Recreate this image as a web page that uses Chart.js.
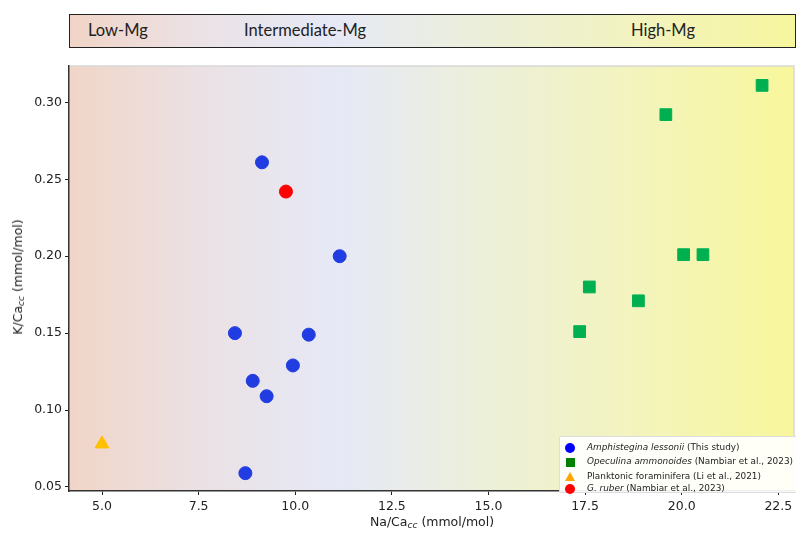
<!DOCTYPE html>
<html>
<head>
<meta charset="utf-8">
<script src="https://cdn.jsdelivr.net/npm/chart.js@4"></script>
<style>
  html, body { margin: 0; padding: 0; background: #fff; }
  #wrap { position: relative; width: 796px; height: 533px; overflow: hidden; }
  #grafico { position: absolute; left: 0; top: 0; }
  .faixa {
    position: absolute; left: 69px; top: 14px; width: 725px; height: 32px;
    border: 1px solid #222;
    background: linear-gradient(to right, #f1d4c6 0%, #ebe2e6 18%, #e6e9f6 36%, #ebeedc 55%, #f2f3bf 78%, #f6f69e 100%);
  }
  .faixa span {
    position: absolute; top: 5px; font-family: Lato, "Open Sans", sans-serif; font-size: 16.5px; color: #222;
  }
  .eixo { position: absolute; font-family: "DejaVu Sans", sans-serif; font-size: 12.5px; color: #222; white-space: nowrap; }
  .eixo sub { font-size: 9px; font-style: italic; vertical-align: -2px; }
  #eixoY { left: 18px; top: 277px; transform: translate(-50%, -50%) rotate(-90deg); }
  #eixoX { left: 432px; top: 522px; transform: translate(-50%, -50%); }
  #legenda {
    position: absolute; left: 559px; top: 436px; width: 237px; height: 55px;
    background: rgba(255,255,255,0.92); border: 1px solid #ddd; border-radius: 2px;
    font-family: "DejaVu Sans", sans-serif; font-size: 8.9px; color: #222;
  }
  #legenda .item { position: absolute; left: 27px; white-space: nowrap; }
  #legenda .mk { position: absolute; left: 5px; }
</style>
</head>
<body>
<div id="wrap">
  <canvas id="grafico" width="796" height="533"></canvas>
  <div class="faixa">
    <span style="left:18px">Low-Mg</span>
    <span style="left:174px">Intermediate-Mg</span>
    <span style="left:561px">High-Mg</span>
  </div>
  <div class="eixo" id="eixoY">K/Ca<sub>cc</sub> (mmol/mol)</div>
  <div class="eixo" id="eixoX">Na/Ca<sub>cc</sub> (mmol/mol)</div>
  <div id="legenda"></div>
</div>
<script>
// Dados (Na/Ca em x, K/Ca em y)
const X_TICKS = [5.0, 7.5, 10.0, 12.5, 15.0, 17.5, 20.0, 22.5];
const Y_TICKS = [0.05, 0.10, 0.15, 0.20, 0.25, 0.30];

const AMPHI_NA = [9.14, 11.15, 8.44, 10.35, 9.94, 8.90, 9.26, 8.71];
const AMPHI_K = [0.261, 0.200, 0.150, 0.149, 0.129, 0.119, 0.109, 0.059];

const OPEC_NA = [22.08, 19.59, 20.05, 20.55, 17.61, 18.88, 17.36];
const OPEC_K = [0.311, 0.292, 0.201, 0.201, 0.180, 0.171, 0.151];

const PLANK_NA = [5.0];
const PLANK_K = [0.078];

const RUBER_NA = [9.76];
const RUBER_K = [0.242];

const LEGENDA = [
  { it: 'Amphistegina lessonii', resto: ' (This study)', cor: '#0000ff', forma: 'circle' },
  { it: 'Opeculina ammonoides', resto: ' (Nambiar et al., 2023)', cor: '#008000', forma: 'rect' },
  { it: '', resto: 'Planktonic foraminifera (Li et al., 2021)', cor: '#ffa500', forma: 'triangle' },
  { it: 'G. ruber', resto: ' (Nambiar et al., 2023)', cor: '#ff0000', forma: 'circle' }
];

function pares(xs, ys) {
  return xs.map((x, i) => ({ x, y: ys[i] }));
}

// fundo em degrade na area do grafico
const fundoPlugin = {
  id: 'fundo',
  beforeDraw(chart) {
    const { ctx, chartArea: a } = chart;
    const g = ctx.createLinearGradient(a.left, 0, a.right, 0);
    g.addColorStop(0, '#f1d5c7');
    g.addColorStop(0.18, '#ebe1e4');
    g.addColorStop(0.37, '#e6e9f6');
    g.addColorStop(0.56, '#ecefdb');
    g.addColorStop(0.78, '#f3f4bd');
    g.addColorStop(1, '#f8f79c');
    ctx.save();
    ctx.fillStyle = g;
    ctx.fillRect(a.left, a.top, a.right - a.left, a.bottom - a.top);
    ctx.strokeStyle = '#d8d8d8';
    ctx.lineWidth = 1.5;
    ctx.beginPath();
    ctx.moveTo(a.left, a.top);
    ctx.lineTo(a.right, a.top);
    ctx.lineTo(a.right, a.bottom);
    ctx.stroke();
    ctx.restore();
  }
};

function serie(label, xs, ys, cor, forma, raio) {
  return {
    label, data: pares(xs, ys),
    backgroundColor: cor, borderColor: cor, borderWidth: 1,
    pointStyle: forma, pointRadius: raio, pointHoverRadius: raio
  };
}

new Chart(document.getElementById('grafico'), {
  type: 'scatter',
  data: {
    datasets: [
      serie('Amphistegina lessonii', AMPHI_NA, AMPHI_K, '#213ce0', 'circle', 6.5),
      serie('Opeculina ammonoides', OPEC_NA, OPEC_K, '#00b050', 'rect', 8.3),
      serie('Planktonic foraminifera', PLANK_NA, PLANK_K, '#ffc000', 'triangle', 8),
      serie('G. ruber', RUBER_NA, RUBER_K, '#ff0000', 'circle', 6.5)
    ]
  },
  options: {
    responsive: false,
    animation: false,
    layout: { autoPadding: false, padding: { top: 66, left: 0, right: 2, bottom: 0 } },
    plugins: { legend: { display: false }, tooltip: { enabled: false } },
    scales: {
      x: {
        type: 'linear', min: 4.146, max: 22.906,
        afterFit: s => { s.height = 42; s.paddingLeft = 0; s.paddingRight = 0; },
        afterBuildTicks: s => { s.ticks = X_TICKS.map(v => ({ value: v })); },
        grid: { display: true, drawOnChartArea: false, drawTicks: true, tickLength: 4, color: '#222' },
        border: { display: true, color: '#333', width: 1.5 },
        ticks: { color: '#222', padding: 4, font: { family: 'DejaVu Sans', size: 12.5 }, callback: v => v.toFixed(1) }
      },
      y: {
        type: 'linear', min: 0.0474, max: 0.3236,
        afterFit: s => { s.width = 69; s.paddingTop = 0; s.paddingBottom = 0; },
        afterBuildTicks: s => { s.ticks = Y_TICKS.map(v => ({ value: v })); },
        grid: { display: true, drawOnChartArea: false, drawTicks: true, tickLength: 4, color: '#222' },
        border: { display: true, color: '#333', width: 1.5 },
        ticks: { color: '#222', padding: 3, font: { family: 'DejaVu Sans', size: 12.5 }, callback: v => v.toFixed(2) }
      }
    }
  },
  plugins: [fundoPlugin]
});

// legenda em HTML (nomes de especie em italico)
const leg = document.getElementById('legenda');
const linhasY = [7, 21, 36, 48];
LEGENDA.forEach((l, i) => {
  const y = linhasY[i];
  let mk = '';
  if (l.forma === 'circle') mk = `<div class="mk" style="top:${y - 1}px;left:5px;width:10px;height:10px;border-radius:50%;background:${l.cor}"></div>`;
  else if (l.forma === 'rect') mk = `<div class="mk" style="top:${y}px;left:6px;width:9px;height:9px;background:${l.cor}"></div>`;
  else mk = `<div class="mk" style="top:${y - 1}px;left:5px;width:0;height:0;border-left:5px solid transparent;border-right:5px solid transparent;border-bottom:9px solid ${l.cor}"></div>`;
  const txt = (l.it ? `<i>${l.it}</i>` : '') + l.resto;
  leg.insertAdjacentHTML('beforeend', mk + `<div class="item" style="top:${y - 2}px">${txt}</div>`);
});
</script>
</body>
</html>
